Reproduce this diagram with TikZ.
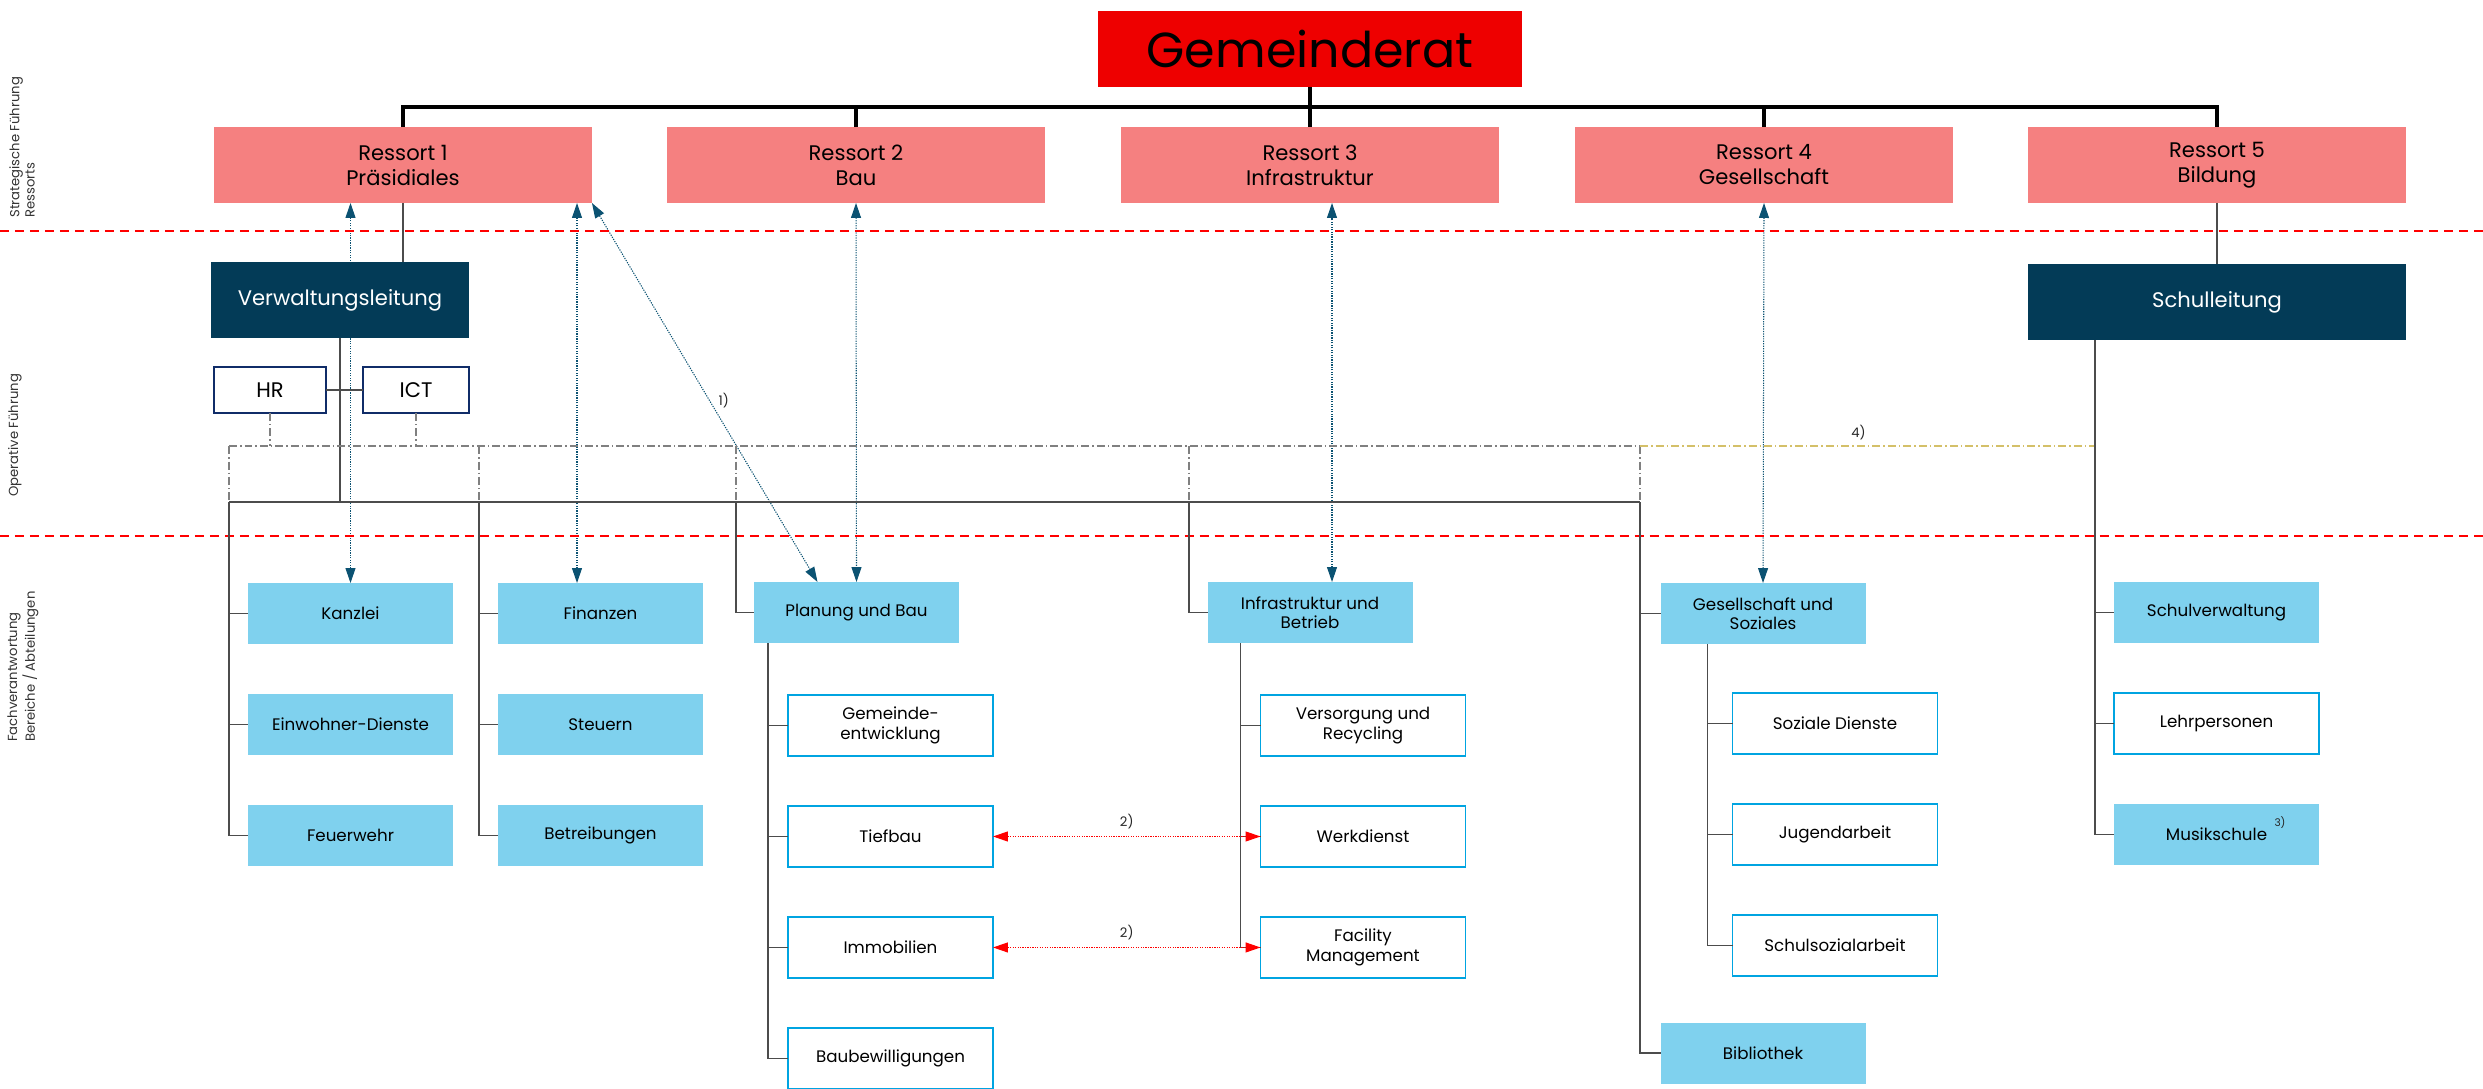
\documentclass[tikz,border=0pt]{standalone}
\usepackage{fontspec}
\setmainfont{Poppins}
\usetikzlibrary{positioning,arrows.meta,backgrounds}

\definecolor{councilred}{RGB}{238,0,0}
\definecolor{ressortred}{RGB}{245,128,128}
\definecolor{navy}{RGB}{3,59,87}
\definecolor{staffblue}{RGB}{16,44,104}
\definecolor{deptblue}{RGB}{127,209,238}
\definecolor{unitblue}{RGB}{0,164,225}
\definecolor{linkteal}{RGB}{11,82,114}
\definecolor{khaki}{RGB}{212,192,105}

\tikzset{
  orgbox/.style={rectangle, inner sep=2pt, outer sep=0pt, align=center, text=black},
  council/.style={orgbox, fill=councilred, minimum width=8.48cm, minimum height=1.52cm, font=\fontsize{28}{32}\selectfont},
  ressort/.style={orgbox, fill=ressortred, minimum width=7.56cm, minimum height=1.52cm, font=\fontsize{12}{14.2}\selectfont},
  lead/.style={orgbox, fill=navy, text=white, minimum height=1.52cm, font=\fontsize{12}{14}\selectfont},
  staff/.style={orgbox, draw=staffblue, line width=1.1pt, fill=white, minimum height=0.92cm, font=\fontsize{12}{14}\selectfont},
  dept/.style={orgbox, fill=deptblue, minimum width=4.1cm, minimum height=1.22cm, font=\fontsize{9.5}{11}\selectfont},
  unit/.style={dept, fill=white, draw=unitblue, line width=1pt},
  bus/.style={line width=2pt, black},
  orgline/.style={line width=0.7pt, black!70},
  dashframe/.style={line width=0.7pt, black!50, dash pattern=on 0.16cm off 0.06cm on 0.03cm off 0.06cm},
  khakiframe/.style={dashframe, khaki},
  divider/.style={red, line width=1.3pt, dash pattern=on 0.18cm off 0.12cm},
  link/.style={linkteal, line width=0.6pt, dash pattern=on 0.7pt off 0.7pt,
    {Triangle[length=0.3cm,width=0.2cm]}-{Triangle[length=0.3cm,width=0.2cm]}},
  redlink/.style={link, red},
  note/.style={font=\fontsize{7.5}{9}\selectfont, text=black!85, inner sep=1pt},
  rowlabel/.style={rotate=90, anchor=west, align=left, inner sep=0pt, font=\fontsize{7.5}{8.6}\selectfont, text=black!80}
}

\begin{document}
\begin{tikzpicture}[x=0.02cm, y=-0.02cm]
  \useasboundingbox (0,0) rectangle (2483,1088);
  % Define nodes
  \node[council] (gr) at (1310,49) {Gemeinderat};
  \node[ressort] (r1) at (403,165)  {Ressort 1\\Präsidiales};
  \node[ressort] (r2) at (856,165)  {Ressort 2\\Bau};
  \node[ressort] (r3) at (1310,165) {Ressort 3\\Infrastruktur};
  \node[ressort] (r4) at (1764,165) {Ressort 4\\Gesellschaft};
  \node[ressort] (r5) at (2217,165) {Ressort 5\\Bildung};

  \node[lead, minimum width=5.16cm] (vl) at (340,300)  {Verwaltungsleitung};
  \node[lead, minimum width=7.56cm] (sl) at (2217,302) {Schulleitung};
  \node[staff, minimum width=2.24cm] (hr)  at (270,390) {HR};
  \node[staff, minimum width=2.12cm] (ict) at (416,390) {ICT};

  \node[dept] (kanzlei) at (350.5,613.5) {Kanzlei};
  \node[dept, below=1cm of kanzlei] (einwohner) {Einwohner-Dienste};
  \node[dept, below=1cm of einwohner] (feuer) {Feuerwehr};

  \node[dept] (finanzen) at (600.5,613.5) {Finanzen};
  \node[dept, below=1cm of finanzen] (steuern) {Steuern};
  \node[dept, below=1cm of steuern] (betreib) {Betreibungen};

  \node[dept] (pub) at (856.5,612.5) {Planung und Bau};
  \node[unit] (gemeinde) at (890.5,725.5) {Gemeinde-\\entwicklung};
  \node[unit, below=1cm of gemeinde] (tiefbau) {Tiefbau};
  \node[unit, below=1cm of tiefbau] (immo) {Immobilien};
  \node[unit, below=1cm of immo] (baubew) {Baubewilligungen};

  \node[dept] (infra) at (1310,612.5) {Infrastruktur und\\Betrieb};
  \node[unit] (versorg) at (1363,725.5) {Versorgung und\\Recycling};
  \node[unit, below=1cm of versorg] (werk) {Werkdienst};
  \node[unit, below=1cm of werk] (fm) {Facility\\Management};

  \node[dept] (gus) at (1763,613.5) {Gesellschaft und\\Soziales};
  \node[unit] (soz) at (1835,723.5) {Soziale Dienste};
  \node[unit, below=1cm of soz] (jugend) {Jugendarbeit};
  \node[unit, below=1cm of jugend] (ssa) {Schulsozialarbeit};
  \node[dept] (biblio) at (1763,1053) {Bibliothek};

  \node[dept] (schulverw) at (2216.5,612.5) {Schulverwaltung};
  \node[unit, below=1cm of schulverw] (lehr) {Lehrpersonen};
  \node[dept, below=1cm of lehr] (musik) {Musikschule};
  \node[note, font=\fontsize{6}{7}\selectfont] (fn3) at ([xshift=1.27cm,yshift=0.23cm]musik.center) {3)};

  \node[rowlabel] (strat) at (22,218) {Strategische Führung\\Ressorts};
  \node[rowlabel] (oper)  at (15,497) {Operative Führung};
  \node[rowlabel] (fach)  at (23,742) {Fachverantwortung\\Bereiche / Abteilungen};

  \coordinate (bus) at (0,107);
  \coordinate (bar) at (0,502);
  \coordinate (k1) at (229,446);
  \coordinate (k2) at (479,446);
  \coordinate (k3) at (736,446);
  \coordinate (k4) at (1189,446);
  \coordinate (k5) at (1640,446);
  \coordinate (k6) at (2095,446);

  % Connect nodes
  \draw[divider] (0,231) -- (2483,231);
  \draw[divider] (0,536) -- (2483,536);

  \draw[bus] (r1.north) |- (bus -| r5.north) -- (r5.north);
  \draw[bus] (gr.south) -- (r3.north);
  \draw[bus] (r2.north) -- (r2.north |- bus);
  \draw[bus] (r4.north) -- (r4.north |- bus);

  \draw[orgline] (r1.south) -- (r1.south |- vl.north);
  \draw[orgline] (r5.south) -- (sl.north);
  \draw[orgline] (vl.south) -- (vl.south |- bar);
  \draw[orgline] (hr.east) -- (ict.west);

  \draw[dashframe] (hr.south) -- (hr.south |- k1);
  \draw[dashframe] (ict.south) -- (ict.south |- k1);
  \draw[dashframe] (k1) -- (k5);
  \foreach \k in {k1,k2,k3,k4,k5}
    \draw[dashframe] (\k) -- (\k |- bar);
  \draw[khakiframe] (k5) -- node[note, above=2pt, pos=.48] {4)} (k6);
  \draw[orgline] (k1 |- bar) -- (k5 |- bar);

  \draw[orgline] (k1 |- bar) |- (feuer.west);
  \foreach \n in {kanzlei,einwohner}
    \draw[orgline] (\n.west -| k1) -- (\n.west);
  \draw[orgline] (k2 |- bar) |- (betreib.west);
  \foreach \n in {finanzen,steuern}
    \draw[orgline] (\n.west -| k2) -- (\n.west);
  \draw[orgline] (k3 |- bar) |- (pub.west);
  \draw[orgline] (k4 |- bar) |- (infra.west);
  \draw[orgline] (k5 |- bar) |- (biblio.west);
  \draw[orgline] (gus.west -| k5) -- (gus.west);
  \draw[orgline] (sl.south -| k6) |- (musik.west);
  \foreach \n in {schulverw,lehr}
    \draw[orgline] (\n.west -| k6) -- (\n.west);

  \coordinate (p) at ([xshift=0.28cm]pub.south west);
  \draw[orgline] (p) |- (baubew.west);
  \foreach \n in {gemeinde,tiefbau,immo}
    \draw[orgline] (\n.west -| p) -- (\n.west);
  \coordinate (i) at ([xshift=0.66cm]infra.south west);
  \draw[orgline] (i) |- (fm.west);
  \foreach \n in {versorg,werk}
    \draw[orgline] (\n.west -| i) -- (\n.west);
  \coordinate (g) at ([xshift=0.94cm]gus.south west);
  \draw[orgline] (g) |- (ssa.west);
  \foreach \n in {soz,jugend}
    \draw[orgline] (\n.west -| g) -- (\n.west);

  \draw[redlink] (tiefbau.east) -- node[note, above=3pt] {2)} (werk.west);
  \draw[redlink] (immo.east) -- node[note, above=3pt] {2)} (fm.west);

  \begin{scope}[on background layer]
    \coordinate (fa) at ([xshift=-0.47cm]finanzen.north);
    \coordinate (ia) at ([xshift=0.44cm]infra.north);
    \draw[link] (kanzlei.north) -- (kanzlei.north |- r1.south);
    \draw[link] (fa) -- (fa |- r1.south);
    \draw[link] (r1.south east) -- node[note, pos=.52, right=4pt] {1)} ([xshift=-0.78cm]pub.north);
    \draw[link] (r2.south) -- (pub.north);
    \draw[link] (ia) -- (ia |- r3.south);
    \draw[link] (r4.south) -- (gus.north);
  \end{scope}
\end{tikzpicture}
\end{document}
